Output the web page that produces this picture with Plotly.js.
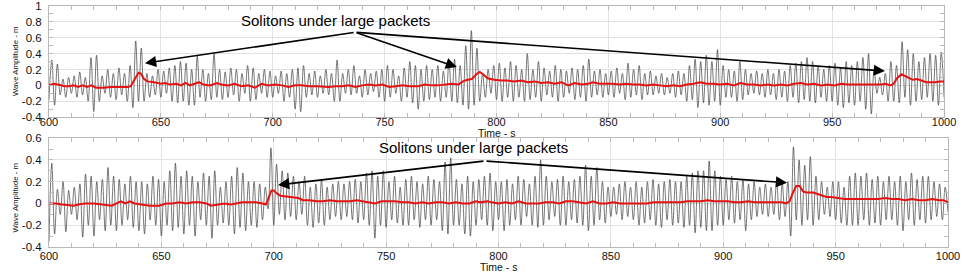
<!DOCTYPE html>
<html>
<head>
<meta charset="utf-8">
<script src="https://cdn.plot.ly/plotly-3.0.1.min.js"></script>
<style>
html,body{margin:0;padding:0;background:#fff;}
#chart{width:975px;height:273px;}
</style>
</head>
<body>
<div id="chart"></div>
<script>
// ---- data ----
var sampleStart = 600;      // s
var sampleStep = 1.25;      // s between successive crests/troughs

var topWave = [
-0.18,0.32,-0.25,0.27,-0.12,0.08,-0.15,0.1,
-0.1,0.12,-0.15,0.17,-0.12,0.1,-0.2,0.35,
-0.33,0.38,-0.2,0.12,-0.1,0.2,-0.15,0.15,
-0.18,0.22,-0.12,0.15,-0.2,0.25,-0.28,0.56,
-0.2,0.47,-0.2,0.15,-0.15,0.12,-0.12,0.2,
-0.15,0.18,-0.1,0.22,-0.2,0.25,-0.22,0.3,
-0.2,0.28,-0.25,0.2,-0.25,0.37,-0.15,0.2,
-0.2,0.15,-0.18,0.4,-0.15,0.2,-0.18,0.17,
-0.15,0.22,-0.12,0.2,-0.2,0.15,-0.1,0.25,
-0.2,0.22,-0.18,0.15,-0.1,0.2,-0.15,0.18,
-0.15,0.12,-0.1,0.18,-0.2,0.15,-0.15,0.2,
-0.3,0.22,-0.33,0.25,-0.15,0.15,-0.12,0.18,
-0.15,0.12,-0.1,0.2,-0.12,0.15,-0.2,0.32,
-0.2,0.15,-0.1,0.2,-0.12,0.25,-0.1,0.12,
-0.15,0.2,-0.12,0.15,-0.08,0.18,-0.15,0.2,
-0.2,0.25,-0.15,0.2,-0.1,0.12,-0.2,0.22,
-0.15,0.3,-0.22,0.25,-0.3,0.2,-0.2,0.25,
-0.18,0.2,-0.15,0.25,-0.2,0.18,-0.15,0.3,
-0.2,0.33,-0.22,0.25,-0.25,0.5,-0.3,0.69,
-0.25,0.47,-0.2,0.15,-0.15,0.2,-0.1,0.25,
-0.18,0.28,-0.2,0.22,-0.15,0.3,-0.2,0.25,
-0.15,0.2,-0.2,0.4,-0.18,0.2,-0.15,0.3,
-0.2,0.22,-0.12,0.18,-0.15,0.25,-0.2,0.2,
-0.15,0.18,-0.1,0.22,-0.18,0.2,-0.15,0.25,
-0.2,0.33,-0.15,0.18,-0.12,0.2,-0.15,0.15,
-0.12,0.18,-0.15,0.22,-0.1,0.15,-0.18,0.28,
-0.15,0.2,-0.12,0.25,-0.18,0.15,-0.12,0.18,
-0.12,0.12,-0.1,0.15,-0.12,0.1,-0.1,0.15,
-0.15,0.18,-0.12,0.15,-0.2,0.25,-0.18,0.33,
-0.28,0.3,-0.22,0.38,-0.25,0.3,-0.2,0.45,
-0.25,0.25,-0.15,0.2,-0.15,0.18,-0.2,0.3,
-0.18,0.2,-0.12,0.15,-0.1,0.18,-0.12,0.15,
-0.15,0.2,-0.12,0.15,-0.18,0.2,-0.15,0.18,
-0.2,0.25,-0.15,0.28,-0.22,0.3,-0.18,0.35,
-0.2,0.3,-0.22,0.25,-0.15,0.2,-0.2,0.25,
-0.2,0.28,-0.25,0.22,-0.28,0.3,-0.22,0.25,
-0.25,0.3,-0.2,0.35,-0.3,0.4,-0.36,0.2,
-0.1,0.1,-0.12,0.15,-0.2,0.3,-0.2,0.25,
-0.22,0.55,-0.15,0.45,-0.25,0.4,-0.2,0.3,
-0.18,0.35,-0.15,0.4,-0.2,0.38,-0.25,0.42,
-0.15
];

var bottomWave = [
-0.35,0.37,-0.28,0.13,-0.1,0.2,-0.26,0.12,
-0.1,0.15,-0.15,0.18,-0.31,0.27,-0.2,0.25,
-0.3,0.2,-0.15,0.22,-0.25,0.33,-0.2,0.25,
-0.25,0.22,-0.2,0.18,-0.15,0.25,-0.22,0.2,
-0.25,0.2,-0.28,0.18,-0.15,0.25,-0.2,0.22,
-0.3,0.2,-0.2,0.3,-0.25,0.37,-0.22,0.25,
-0.28,0.3,-0.2,0.25,-0.3,0.2,-0.15,0.28,
-0.2,0.25,-0.32,0.3,-0.2,0.15,-0.18,0.2,
-0.2,0.25,-0.28,0.33,-0.22,0.28,-0.25,0.2,
-0.2,0.2,-0.22,0.18,-0.15,0.15,-0.05,0.51,
-0.2,0.36,-0.1,0.3,-0.15,0.28,-0.12,0.25,
-0.15,0.2,-0.1,0.25,-0.2,0.15,-0.22,0.18,
-0.18,0.22,-0.2,0.15,-0.15,0.18,-0.12,0.2,
-0.15,0.18,-0.12,0.2,-0.15,0.22,-0.18,0.2,
-0.15,0.28,-0.2,0.3,-0.32,0.25,-0.2,0.3,
-0.22,0.2,-0.15,0.25,-0.18,0.15,-0.2,0.22,
-0.2,0.25,-0.15,0.2,-0.22,0.18,-0.15,0.25,
-0.2,0.22,-0.15,0.2,-0.25,0.38,-0.28,0.42,
-0.2,0.22,-0.2,0.18,-0.28,0.25,-0.3,0.2,
-0.2,0.22,-0.15,0.25,-0.2,0.28,-0.25,0.2,
-0.15,0.2,-0.25,0.22,-0.2,0.18,-0.15,0.25,
-0.2,0.22,-0.12,0.18,-0.2,0.25,-0.22,0.4,
-0.2,0.25,-0.15,0.2,-0.12,0.22,-0.2,0.25,
-0.2,0.2,-0.15,0.22,-0.18,0.25,-0.2,0.35,
-0.25,0.25,-0.2,0.33,-0.15,0.2,-0.18,0.15,
-0.12,0.15,-0.1,0.18,-0.15,0.2,-0.12,0.15,
-0.15,0.2,-0.2,0.15,-0.18,0.2,-0.15,0.22,
-0.2,0.18,-0.22,0.2,-0.15,0.22,-0.2,0.2,
-0.18,0.2,-0.22,0.25,-0.2,0.28,-0.27,0.3,
-0.22,0.3,-0.25,0.39,-0.25,0.3,-0.2,0.25,
-0.2,0.22,-0.15,0.25,-0.18,0.2,-0.15,0.22,
-0.25,0.18,-0.15,0.2,-0.12,0.15,-0.1,0.18,
-0.12,0.15,-0.1,0.2,-0.15,0.18,-0.12,0.2,
-0.3,0.52,-0.15,0.4,-0.2,0.35,-0.15,0.43,
-0.2,0.25,-0.15,0.2,-0.1,0.15,-0.12,0.2,
-0.15,0.2,-0.18,0.15,-0.2,0.25,-0.2,0.28,
-0.2,0.25,-0.15,0.28,-0.2,0.22,-0.18,0.25,
-0.2,0.2,-0.15,0.25,-0.15,0.2,-0.2,0.25,
-0.25,0.2,-0.15,0.28,-0.2,0.22,-0.15,0.25,
-0.18,0.25,-0.15,0.2,-0.12,0.18,-0.15,0.15,
-0.08
];

var topSolitonTime = [600,602,604,607,609,611,613,615,617,619,621,624,628,632,635,636.5,638,640,641,642.5,644,647,650,652,654,657,659,661,663,665,667,669,672,675,677,680,683,686,689,692,695,698,701,704,707,710,713,716,720,725,728,731,734,737,740,743,746,749,752,755,758,761,765,768,771,774,777,780,783,785,787,789,791,792.5,794,796,799,802,805,808,811,814,817,820,823,826,829,832,835,838,841,843,846,849,852,855,858,861,864,867,870,873,876,879,882,885,888,891,894,897,900,903,906,909,912,915,918,921,924,927,930,933,936,939,942,945,948,951,954,957,960,963,966,969,972,974,976,977.5,979,981,982.5,984,986,988,990,992,994,996,998,1000];
var topSoliton = [0,0.02,0.01,-0.01,-0.01,0,-0.02,0,-0.02,0,-0.03,-0.03,-0.02,-0.02,-0.02,-0.01,0.06,0.16,0.15,0.08,0.05,0.04,0.02,0.03,0.01,0.02,0,0.03,0,0.02,0.04,0.01,0,0.03,0.01,0,0.02,-0.01,0,-0.03,0.02,0,0.01,0,-0.02,0,0,-0.01,-0.01,-0.02,-0.01,-0.01,0,-0.02,0,0.01,0,0.01,-0.02,-0.01,0,-0.01,-0.01,0.01,0,0,0.01,0.02,0.01,0.05,0.07,0.08,0.14,0.17,0.14,0.09,0.07,0.06,0.06,0.05,0.06,0.04,0.05,0.03,0.04,0.02,0.04,0,0.03,0.01,0.02,0.04,0.02,0.02,0.02,0.01,0.02,0.01,0.01,0,0.01,0,-0.01,0,-0.01,0.01,0.02,0.04,0.02,0.02,0.01,0.02,0,0.03,0.01,0.01,0,0.01,0,0.01,0,0.02,0.03,0.01,0.02,0,0.01,0,0.02,0.01,0.01,0.01,0.01,0.01,0.01,0.02,0,0.02,0.09,0.14,0.12,0.09,0.07,0.08,0.06,0.04,0.04,0.04,0.05,0.05];

var bottomSolitonTime = [600,603,606,609,611,613,616,620,624,626,628,630,632,634,636,638,641,645,649,652,655,658,661,664,667,670,672,675,678,681,684,686,689,692,695,696.5,697.5,699,700,701.5,703,706,709,711,713,716,719,722,725,728,731,734,737,740,742,745,748,751,754,757,760,763,766,769,772,775,778,781,784,787,790,792,795,797,800,803,806,809,812,815,818,821,824,827,830,833,836,839,842,845,848,851,854,857,860,863,866,869,872,875,878,881,884,887,890,893,896,899,902,905,908,911,914,917,920,923,926,928,929.5,931,932.5,934,935.5,937,940,943,946,948,951,954,957,960,963,966,969,972,975,978,981,984,987,990,993,996,998,1000];
var bottomSoliton = [0,0,-0.01,-0.02,-0.02,-0.01,0,0,-0.01,-0.02,-0.02,0,0.02,0,0.02,0,-0.01,-0.02,-0.02,0,0,0.01,0,0.01,0.01,0,-0.02,-0.01,0,-0.01,0,0.01,0.01,0.01,0,-0.01,0.04,0.12,0.12,0.09,0.07,0.06,0.05,0.05,0.03,0.03,0.02,0.02,0.03,0.02,0.02,0.02,0.03,0.02,0.01,0,0.02,0.02,0.02,0.01,0.01,0,0.01,0,0.01,0.01,0,0.01,0,0,0.02,0.01,0.02,0.01,0,0.01,0,0.02,0,0,0,0.01,0.01,0,0.02,0.02,0.01,0,0.02,0,0,0.01,0,0,0,0,0,0.01,0.01,0.01,0.01,0.01,0.02,0.02,0.02,0.03,0.02,0.02,0.02,0.01,0.01,0.02,0.01,0.01,0.01,0.01,0.01,0,0.02,0.1,0.16,0.16,0.11,0.1,0.1,0.08,0.06,0.06,0.05,0.04,0.04,0.04,0.04,0.04,0.04,0.05,0.04,0.04,0.03,0.04,0.03,0.03,0.04,0.03,0.03,0.01];

var xTickVals = [600,650,700,750,800,850,900,950,1000];
var xTickText = ['600','650','700','750','800','850','900','950','1000'];
var topYTickVals = [-0.4,-0.2,0,0.2,0.4,0.6,0.8,1];
var topYTickText = ['-0.4','-0.2','0','0.2','0.4','0.6','0.8','1'];
var bottomYTickVals = [-0.4,-0.2,0,0.2,0.4,0.6];
var bottomYTickText = ['-0.4','-0.2','0','0.2','0.4','0.6'];

var noteText = 'Solitons under large packets';
var xTitle = 'Time - s';
var yTitle = 'Wave Amplitude - m';

// ---- build ----
function times(n){ var t=[]; for(var i=0;i<n;i++){ t.push(sampleStart + i*sampleStep); } return t; }

var waveStyle = {color:'#3c3c3c', width:0.7, shape:'spline', smoothing:1};
var solStyle = {color:'#e31313', width:2};

var traces = [
  {x: times(topWave.length), y: topWave, type:'scatter', mode:'lines', line: waveStyle, xaxis:'x', yaxis:'y', hoverinfo:'skip'},
  {x: topSolitonTime, y: topSoliton, type:'scatter', mode:'lines', line: solStyle, xaxis:'x', yaxis:'y', hoverinfo:'skip'},
  {x: times(bottomWave.length), y: bottomWave, type:'scatter', mode:'lines', line: waveStyle, xaxis:'x2', yaxis:'y2', hoverinfo:'skip'},
  {x: bottomSolitonTime, y: bottomSoliton, type:'scatter', mode:'lines', line: solStyle, xaxis:'x2', yaxis:'y2', hoverinfo:'skip'}
];

var FONT = '"Liberation Sans", Arial, Helvetica, sans-serif';
function xAxis(domain, anchor, standoff){
  return {
    domain: domain, anchor: anchor, range:[600,1000],
    tickmode:'array', tickvals:xTickVals, ticktext:xTickText,
    ticks:'inside', ticklen:0, tickcolor:'#bbb', ticklabelstandoff: standoff, ticklabeloverflow:'allow',
    showgrid:true, gridcolor:'#e2e2e2', gridwidth:1, zeroline:false,
    showline:true, mirror:'allticks', linecolor:'#b8b8b8', linewidth:1,
    tickfont:{size:11, color:'#111', family:FONT},
    minor:{tickmode:'linear', tick0:600, dtick:10, ticks:'inside', ticklen:4, tickcolor:'#bbb', showgrid:false},
    fixedrange:true
  };
}
function yAxis(domain, anchor, range, vals, text){
  return {
    domain: domain, anchor: anchor, range: range,
    tickmode:'array', tickvals:vals, ticktext:text,
    ticks:'inside', ticklen:0, tickcolor:'#bbb', ticklabeloverflow:'allow', ticklabelstandoff:4,
    showgrid:true, gridcolor:'#e2e2e2', gridwidth:1, zeroline:false,
    showline:true, mirror:'allticks', linecolor:'#b8b8b8', linewidth:1,
    tickfont:{size:11.5, color:'#111', family:FONT},
    minor:{tickmode:'linear', tick0:0, dtick:0.1, ticks:'inside', ticklen:4, tickcolor:'#bbb', showgrid:false},
    fixedrange:true
  };
}

function arrow(xr, yr, tipX, tipY, fromX, fromY){
  return {xref:xr, yref:yr, axref:xr, ayref:yr, x:tipX, y:tipY, ax:fromX, ay:fromY,
    text:'', showarrow:true, arrowhead:2, arrowsize:1.4, arrowwidth:1.6, arrowcolor:'#000'};
}
var titleFont = {size:10.5, color:'#111', family:FONT};
var yTitleFont = {size:7.8, color:'#111', family:FONT};

var layout = {
  width:975, height:273,
  margin:{l:49, r:27, t:6, b:26},
  paper_bgcolor:'#fff', plot_bgcolor:'#fff',
  showlegend:false,
  font:{family:FONT, color:'#111'},
  xaxis: xAxis([0,0.9956], 'y', -5),
  yaxis: yAxis([0.539,1], 'x', [-0.4,1.0005], topYTickVals, topYTickText),
  xaxis2: xAxis([0,1], 'y2', -1),
  yaxis2: yAxis([0,0.452], 'x2', [-0.4,0.6005], bottomYTickVals, bottomYTickText),
  annotations: [
    {xref:'x', yref:'y', x:728, y:0.82, text:noteText, showarrow:false, font:{size:15, color:'#000', family:FONT}},
    arrow('x','y', 642.9, 0.28, 736.8, 0.67),
    arrow('x','y', 782.3, 0.23, 736.8, 0.67),
    arrow('x','y', 973.6, 0.18, 736.8, 0.67),
    {xref:'x2', yref:'y2', x:788.7, y:0.51, text:noteText, showarrow:false, font:{size:15, color:'#000', family:FONT}},
    arrow('x2','y2', 701.9, 0.17, 794, 0.39),
    arrow('x2','y2', 928.4, 0.19, 794, 0.39),
    {xref:'x domain', yref:'y domain', x:0.5, y:0, yanchor:'middle', yshift:-15.5, text:xTitle, showarrow:false, font:titleFont},
    {xref:'x2 domain', yref:'y2 domain', x:0.5, y:0, yanchor:'middle', yshift:-19.5, text:xTitle, showarrow:false, font:titleFont},
    {xref:'paper', yref:'y domain', x:0, y:0.5, xshift:-40, text:yTitle, textangle:-90, showarrow:false, font:yTitleFont},
    {xref:'paper', yref:'y2 domain', x:0, y:0.45, xshift:-40, text:yTitle, textangle:-90, showarrow:false, font:yTitleFont}
  ]
};

Plotly.newPlot('chart', traces, layout, {staticPlot:true, displayModeBar:false});
</script>
</body>
</html>
